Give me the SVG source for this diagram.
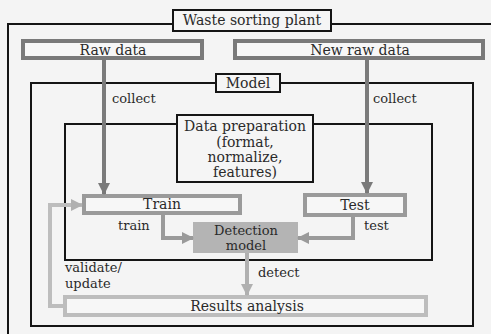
<svg xmlns="http://www.w3.org/2000/svg" width="491" height="334" viewBox="0 0 491 334">
<style>
text{font-family:"DejaVu Serif","Liberation Serif",serif;fill:#2a2a2a}
.t{font-size:14px;text-anchor:middle}
.s{font-size:13px;text-anchor:middle}
.l{font-size:13px}
.blk{fill:none;stroke:#151515;stroke-width:2}
.tag{fill:#f5f5f5;stroke:#151515;stroke-width:2}
.src{fill:#f7f7f7;stroke:#7a7a7a;stroke-width:4}
.mid{fill:#f7f7f7;stroke:#9a9a9a;stroke-width:4}
.lt{fill:#f7f7f7;stroke:#bdbdbd;stroke-width:4}
.c{fill:none;stroke-width:4}
</style>
<defs>
<marker id="a1" markerUnits="userSpaceOnUse" markerWidth="12" markerHeight="12" viewBox="0 0 12 12" refX="11" refY="6" orient="auto"><path d="M0,0 L12,6 L0,12 Z" fill="#7a7a7a"/></marker>
<marker id="a2" markerUnits="userSpaceOnUse" markerWidth="12" markerHeight="12" viewBox="0 0 12 12" refX="11" refY="6" orient="auto"><path d="M0,0 L12,6 L0,12 Z" fill="#9a9a9a"/></marker>
<marker id="a3" markerUnits="userSpaceOnUse" markerWidth="12" markerHeight="12" viewBox="0 0 12 12" refX="11" refY="6" orient="auto"><path d="M0,0 L12,6 L0,12 Z" fill="#b0b0b0"/></marker>
</defs>
<rect x="0" y="0" width="491" height="334" fill="#f4f4f4"/>
<g id="plant">
<rect class="blk" x="8" y="24" width="500" height="320"/>
<rect class="tag" x="173" y="10" width="158" height="21"/>
<text class="t" x="252" y="25">Waste sorting plant</text>
</g>
<g id="model">
<rect class="blk" x="31" y="83" width="442" height="243"/>
<rect class="tag" x="216" y="74" width="64" height="18"/>
<text class="t" x="248" y="88">Model</text>
</g>
<g id="prep-area">
<rect class="blk" x="65" y="124" width="367" height="136"/>
</g>
<g id="data-prep">
<rect class="tag" x="177" y="115" width="136" height="67"/>
<text class="t" x="245" y="131">Data preparation</text>
<text class="t" x="245" y="147">(format,</text>
<text class="t" x="245" y="162">normalize,</text>
<text class="t" x="245" y="177">features)</text>
</g>
<g id="raw-data">
<rect class="src" x="23" y="41" width="179" height="17"/>
<text class="t" x="113" y="55">Raw data</text>
</g>
<g id="new-raw-data">
<rect class="src" x="235" y="41" width="248" height="17"/>
<text class="t" x="360" y="55">New raw data</text>
</g>
<g id="train">
<rect class="mid" x="84" y="196" width="156" height="17"/>
<text class="t" x="162" y="209">Train</text>
</g>
<g id="test">
<rect class="mid" x="305" y="195" width="100" height="20"/>
<text class="t" x="355" y="210">Test</text>
</g>
<g id="detection-model">
<rect x="193" y="222" width="105" height="31" fill="#b4b4b4"/>
<text class="s" x="246" y="235">Detection</text>
<text class="s" x="246" y="250">model</text>
</g>
<g id="results">
<rect class="lt" x="65" y="297" width="361" height="18"/>
<text class="t" x="247" y="311">Results analysis</text>
</g>
<g id="connectors">
<path class="c" d="M104,60 V194" stroke="#7a7a7a" marker-end="url(#a1)"/>
<path class="c" d="M367,60 V193" stroke="#7a7a7a" marker-end="url(#a1)"/>
<path class="c" d="M163,215 V238 H193" stroke="#9a9a9a" marker-end="url(#a2)"/>
<path class="c" d="M353,217 V238 H298" stroke="#9a9a9a" marker-end="url(#a2)"/>
<path class="c" d="M247,253 V295" stroke="#b0b0b0" marker-end="url(#a3)"/>
<path class="c" d="M63,306 H50 V205 H82" stroke="#bdbdbd" marker-end="url(#a3)"/>
<text class="l" x="112" y="103">collect</text>
<text class="l" x="373" y="103">collect</text>
<text class="l" x="118" y="230">train</text>
<text class="l" x="364" y="230">test</text>
<text class="l" x="258" y="277">detect</text>
<text class="l" x="65" y="272">validate/</text>
<text class="l" x="65" y="288">update</text>
</g>
</svg>
